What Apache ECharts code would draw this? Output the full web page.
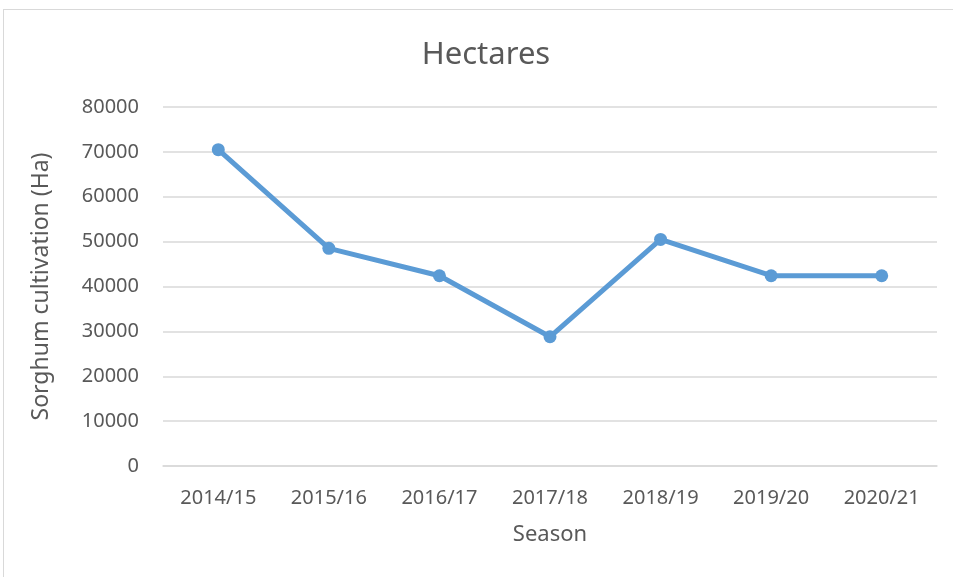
<!DOCTYPE html>
<html>
<head>
<meta charset="utf-8">
<script src="https://cdn.jsdelivr.net/npm/echarts@6/dist/echarts.min.js"></script>
<style>
  html, body { margin: 0; padding: 0; background: #fff; }
  #frame { position: absolute; left: 3px; top: 9px; width: 960px; height: 580px; border: 1px solid #d9d9d9; box-sizing: border-box; }
  #chart { position: absolute; left: 0; top: 0; width: 953px; height: 577px; }
</style>
</head>
<body>
<div id="frame"></div>
<div id="chart"></div>
<script>
// Seasons and hectares of sorghum
const seasons = ['2014/15', '2015/16', '2016/17', '2017/18', '2018/19', '2019/20', '2020/21'];
const hectares = [70500, 48500, 42400, 28800, 50500, 42400, 42400];

const font = 'Noto Sans, Open Sans, sans-serif';
const chart = echarts.init(document.getElementById('chart'));
chart.setOption({
    animation: false,
    title: {
        text: 'Hectares',
        left: 481,
        top: 35,
        textAlign: 'center',
        textStyle: { fontFamily: font, fontSize: 31, fontWeight: 'normal', color: '#595959' }
    },
    grid: { left: 163, right: 16, top: 107, bottom: 111 },
    xAxis: {
        type: 'category',
        data: seasons,
        name: 'Season',
        nameLocation: 'middle',
        nameGap: 58,
        nameTextStyle: { fontFamily: font, fontSize: 22, color: '#595959' },
        axisLine: { lineStyle: { color: '#d9d9d9', width: 1.5 } },
        axisTick: { show: false },
        axisLabel: { fontFamily: font, fontSize: 20, color: '#595959', margin: 22 }
    },
    yAxis: {
        type: 'value',
        min: 0,
        max: 80000,
        interval: 10000,
        name: 'Sorghum cultivation (Ha)',
        nameLocation: 'middle',
        nameGap: 110,
        nameTextStyle: { fontFamily: font, fontSize: 23, color: '#595959' },
        axisLine: { show: false },
        axisTick: { show: false },
        axisLabel: { fontFamily: font, fontSize: 20, color: '#595959', margin: 24, formatter: v => String(v) },
        splitLine: { lineStyle: { color: '#d9d9d9', width: 1.5 } }
    },
    series: [{
        type: 'line',
        data: hectares,
        symbol: 'circle',
        symbolSize: 13,
        lineStyle: { color: '#5b9bd5', width: 5 },
        itemStyle: { color: '#5b9bd5' }
    }]
});
</script>
</body>
</html>
